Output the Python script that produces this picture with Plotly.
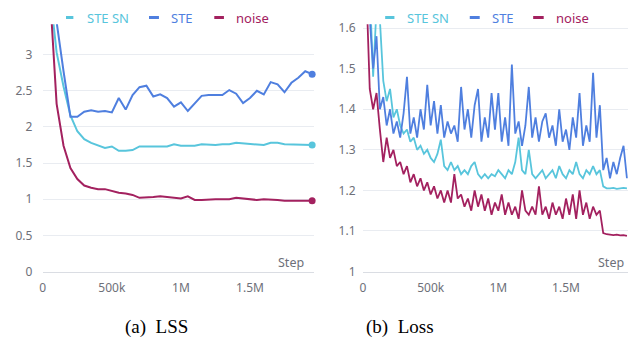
import plotly.graph_objects as go

# ---------------- data: (a) LSS ----------------
lss_steps = [50000 * i for i in range(1, 40)]  # 50k .. 1.95M
lss_ste_sn = [3.9, 3.03, 2.56, 2.16, 1.94, 1.83, 1.78, 1.74, 1.71, 1.73,
              1.67, 1.67, 1.68, 1.73, 1.73, 1.72, 1.72, 1.73, 1.76, 1.74,
              1.74, 1.74, 1.76, 1.75, 1.75, 1.76, 1.76, 1.78, 1.77, 1.76,
              1.76, 1.75, 1.78, 1.78, 1.76, 1.76, 1.75, 1.75, 1.75]
lss_ste = [4.3, 3.45, 2.77, 2.14, 2.14, 2.21, 2.23, 2.21, 2.22, 2.20,
           2.40, 2.24, 2.44, 2.55, 2.57, 2.42, 2.45, 2.40, 2.28, 2.34,
           2.22, 2.32, 2.43, 2.44, 2.44, 2.44, 2.51, 2.46, 2.33, 2.40,
           2.50, 2.45, 2.62, 2.59, 2.48, 2.61, 2.68, 2.77, 2.73]
lss_noise = [3.9, 2.32, 1.74, 1.43, 1.28, 1.19, 1.16, 1.14, 1.14, 1.11,
             1.09, 1.08, 1.06, 1.02, 1.02, 1.03, 1.04, 1.03, 1.02, 1.01,
             1.04, 0.99, 0.99, 1.00, 1.00, 1.00, 1.00, 1.02, 1.01, 1.01,
             0.99, 1.00, 1.00, 0.99, 0.98, 0.98, 0.98, 0.98, 0.98]

# ---------------- data: (b) Loss ----------------
loss_steps = [25000 * i for i in range(1, 79)]  # 25k .. 1.95M
loss_ste_sn = [1.75, 1.70, 1.48, 1.65, 1.62, 1.47, 1.42, 1.45, 1.38, 1.40,
               1.36, 1.34, 1.35, 1.32, 1.33, 1.30, 1.31, 1.29, 1.30, 1.28,
               1.27, 1.29, 1.325, 1.26, 1.25, 1.27, 1.25, 1.26, 1.24, 1.25,
               1.24, 1.26, 1.27, 1.24, 1.23, 1.24, 1.23, 1.24, 1.235, 1.25,
               1.24, 1.23, 1.25, 1.24, 1.27, 1.33, 1.25, 1.24, 1.30, 1.24,
               1.23, 1.24, 1.25, 1.23, 1.24, 1.25, 1.23, 1.26, 1.24, 1.23,
               1.25, 1.24, 1.27, 1.24, 1.23, 1.25, 1.24, 1.26, 1.24, 1.25,
               1.21, 1.205, 1.205, 1.206, 1.204, 1.205, 1.206, 1.205]
loss_ste = [1.75, 1.62, 1.50, 1.58, 1.40, 1.43, 1.36, 1.40, 1.34, 1.37,
            1.33, 1.39, 1.48, 1.34, 1.38, 1.33, 1.40, 1.35, 1.46, 1.36,
            1.42, 1.34, 1.41, 1.33, 1.37, 1.34, 1.36, 1.32, 1.455, 1.35,
            1.40, 1.33, 1.41, 1.45, 1.32, 1.38, 1.33, 1.44, 1.35, 1.44,
            1.32, 1.38, 1.31, 1.51, 1.34, 1.37, 1.31, 1.36, 1.455, 1.33,
            1.38, 1.32, 1.37, 1.39, 1.33, 1.36, 1.31, 1.40, 1.32, 1.35,
            1.30, 1.38, 1.33, 1.44, 1.31, 1.36, 1.32, 1.49, 1.33, 1.41,
            1.25, 1.28, 1.23, 1.27, 1.24, 1.28, 1.31, 1.23]
loss_noise = [1.70, 1.45, 1.40, 1.44, 1.35, 1.27, 1.33, 1.28, 1.30, 1.26,
              1.27, 1.24, 1.26, 1.22, 1.24, 1.21, 1.23, 1.20, 1.22, 1.19,
              1.21, 1.18, 1.20, 1.17, 1.20, 1.17, 1.24, 1.18, 1.19, 1.16,
              1.18, 1.15, 1.20, 1.16, 1.19, 1.15, 1.18, 1.14, 1.17, 1.15,
              1.19, 1.14, 1.17, 1.14, 1.16, 1.13, 1.20, 1.15, 1.14, 1.16,
              1.14, 1.21, 1.14, 1.16, 1.13, 1.17, 1.14, 1.16, 1.13, 1.18,
              1.14, 1.19, 1.13, 1.20, 1.14, 1.17, 1.13, 1.16, 1.14, 1.15,
              1.095, 1.092, 1.091, 1.090, 1.091, 1.089, 1.090, 1.088]

series_names = ["STE SN", "STE", "noise"]
x_tickvals = [0, 500000, 1000000, 1500000]
x_ticktext = ["0", "500k", "1M", "1.5M"]
lss_yticks = [0, 0.5, 1, 1.5, 2, 2.5, 3]
lss_yticktext = ["0", "0.5", "1", "1.5", "2", "2.5", "3"]
loss_yticks = [1.0, 1.1, 1.2, 1.3, 1.4, 1.5, 1.6]
loss_yticktext = ["1", "1.1", "1.2", "1.3", "1.4", "1.5", "1.6"]
captions = ["(a)&nbsp;&nbsp;LSS", "(b)&nbsp;&nbsp;Loss"]

COLORS = ["#58C5DC", "#4F7FDF", "#A3215F"]
W, H = 629, 345
FONT = "Noto Sans"
GREY = "#6E7079"
GRID = "#E9ECF1"
AXIS = "#DADDE3"


def px(x):
    return x / W


def py(y):
    return (H - y) / H


fig = go.Figure()

# left chart
for name, vals, col in zip(series_names, [lss_ste_sn, lss_ste, lss_noise], COLORS):
    fig.add_trace(go.Scatter(x=lss_steps, y=vals, mode="lines", name=name,
                             line=dict(color=col, width=2), xaxis="x", yaxis="y",
                             showlegend=False))
    fig.add_trace(go.Scatter(x=[lss_steps[-1]], y=[vals[-1]], mode="markers",
                             marker=dict(color=col, size=7), xaxis="x", yaxis="y",
                             showlegend=False, cliponaxis=False))

# right chart
for name, vals, col in zip(series_names, [loss_ste_sn, loss_ste, loss_noise], COLORS):
    fig.add_trace(go.Scatter(x=loss_steps, y=vals, mode="lines", name=name,
                             line=dict(color=col, width=1.8), xaxis="x2", yaxis="y2",
                             showlegend=False))

left_dom = [px(40), px(312)]
right_dom = [px(361.7), px(628)]
ydom = [py(277), py(20)]
left_xrange = [0, 1960000]
right_xrange = [0, 1958000]

# label axes: transparent outside ticks push labels down
common_x = dict(tickvals=x_tickvals, ticktext=x_ticktext, showgrid=False,
                showline=True, linecolor=AXIS, linewidth=1, ticks="outside",
                ticklen=5, tickcolor="rgba(0,0,0,0)", zeroline=False,
                tickfont=dict(family=FONT, size=12, color=GREY),
                fixedrange=True)
# overlay axes: visible inside ticks, no labels
tick_x = dict(tickvals=x_tickvals, showticklabels=False, showgrid=False,
              showline=False, ticks="inside", ticklen=5, tickcolor=AXIS,
              zeroline=False, fixedrange=True)
common_y = dict(showgrid=True, gridcolor=GRID, gridwidth=1, zeroline=False,
                showline=False, ticks="outside", tickcolor="rgba(0,0,0,0)",
                tickfont=dict(family=FONT, size=12, color=GREY),
                fixedrange=True)

fig.update_layout(
    width=W, height=H, autosize=False,
    margin=dict(l=0, r=0, t=0, b=0),
    paper_bgcolor="white", plot_bgcolor="white",
    showlegend=False,
    xaxis=dict(domain=left_dom, range=left_xrange, anchor="y", **common_x),
    yaxis=dict(domain=ydom, range=[0, 3.42], anchor="x", ticklen=7,
               tickvals=lss_yticks, ticktext=lss_yticktext, **common_y),
    xaxis2=dict(domain=right_dom, range=right_xrange, anchor="y2", **common_x),
    yaxis2=dict(domain=ydom, range=[1.0, 1.6095], anchor="x2", ticklen=4,
                tickvals=loss_yticks, ticktext=loss_yticktext, **common_y),
    xaxis3=dict(overlaying="x", anchor="y", side="bottom", range=left_xrange, **tick_x),
    xaxis4=dict(overlaying="x2", anchor="y2", side="bottom", range=right_xrange, **tick_x),
)

annotations = []
shapes = []
# "Step" labels
for xr in [304, 626]:
    annotations.append(dict(text="Step", x=px(xr), y=py(267.5), xref="paper", yref="paper",
                            xanchor="right", yanchor="middle", showarrow=False,
                            font=dict(family=FONT, size=12.5, color=GREY)))
# legends
legend_pos = [
    [(63.3, 70.7, 82.7), (146.7, 156.7, 166.7), (212.3, 222, 232.3)],
    [(384, 393.3, 404), (469, 479, 489), (532.7, 543.3, 553.3)],
]
for chart in legend_pos:
    for (m0, m1, tx), name, col in zip(chart, series_names, COLORS):
        shapes.append(dict(type="line", xref="paper", yref="paper",
                           x0=px(m0), x1=px(m1), y0=py(13), y1=py(13),
                           line=dict(color=col, width=3)))
        annotations.append(dict(text=name, x=px(tx), y=py(13.5), xref="paper", yref="paper",
                                xanchor="left", yanchor="middle", showarrow=False,
                                font=dict(family=FONT, size=13, color=col)))
# captions
for cx, cap in zip([154, 399], captions):
    annotations.append(dict(text=cap, x=px(cx), y=py(335), xref="paper", yref="paper",
                            xanchor="center", yanchor="middle", showarrow=False,
                            font=dict(family="Liberation Serif", size=19, color="black")))

fig.update_layout(annotations=annotations, shapes=shapes)
fig.write_html("out.html")
